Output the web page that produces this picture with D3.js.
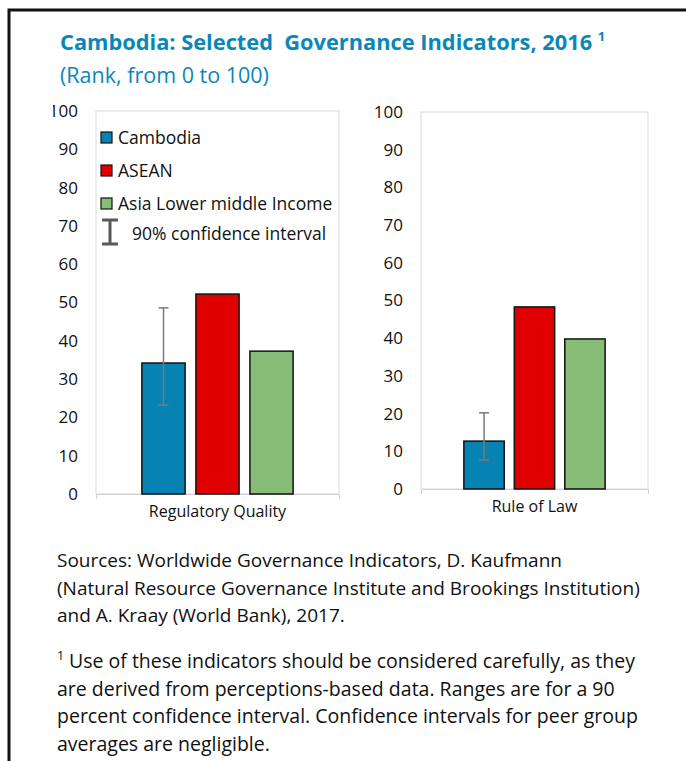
<!DOCTYPE html>
<html>
<head>
<meta charset="utf-8">
<script src="https://cdn.jsdelivr.net/npm/d3@7"></script>
<style>
  body { margin: 0; background: #fff; }
  svg { display: block; font-family: 'Open Sans', sans-serif; }
</style>
</head>
<body>
<script>
const width = 686
const height = 761

// data
const series = ['Cambodia', 'ASEAN', 'Asia Lower middle Income']
const indicators = ['Regulatory Quality', 'Rule of Law']
const regulatoryQuality = [34.2, 52.2, 37.3]
const ruleOfLaw = [12.7, 48.3, 39.8]
const cambodiaLow = [23.2, 7.7]
const cambodiaHigh = [48.6, 20.2]
const yTicks = [0, 10, 20, 30, 40, 50, 60, 70, 80, 90, 100]

const colors = ['#0683b3', '#e00000', '#88bd78']
const blue = '#0a87b8'
const font = "'Open Sans', sans-serif"

const sourceLines = [
  'Sources: Worldwide Governance Indicators, D. Kaufmann',
  '(Natural Resource Governance Institute and Brookings Institution)',
  'and A. Kraay (World Bank), 2017.'
]
const noteLines = [
  'Use of these indicators should be considered carefully, as they',
  'are derived from perceptions-based data. Ranges are for a 90',
  'percent confidence interval. Confidence intervals for peer group',
  'averages are negligible.'
]

const panels = [
  { name: indicators[0], values: regulatoryQuality, lo: cambodiaLow[0], hi: cambodiaHigh[0],
    x0: 96, x1: 339, y0: 494, y1: 111 },
  { name: indicators[1], values: ruleOfLaw, lo: cambodiaLow[1], hi: cambodiaHigh[1],
    x0: 421, x1: 648, y0: 489, y1: 112 }
]

const svg = d3.select('body').append('svg')
  .attr('width', width)
  .attr('height', height)

// frame (top + left only)
svg.append('path')
  .attr('d', `M9,${height} V10 H${width}`)
  .attr('fill', 'none')
  .attr('stroke', '#111')
  .attr('stroke-width', 3)

// title
const title = svg.append('text')
  .attr('x', 60).attr('y', 50)
  .attr('fill', blue)
  .attr('font-size', 21.8)
  .attr('font-weight', 'bold')
  .attr('xml:space', 'preserve')
title.append('tspan').text('Cambodia: Selected  Governance Indicators, 2016 ')
title.append('tspan').attr('font-size', 13).attr('dy', -9).text('1')

svg.append('text')
  .attr('x', 60).attr('y', 83)
  .attr('fill', blue)
  .attr('font-size', 21.5)
  .text('(Rank, from 0 to 100)')

// the source image crops the left edge of the first axis
svg.append('clipPath').attr('id', 'leftclip')
  .append('rect').attr('x', 53).attr('y', 0).attr('width', width).attr('height', height)

const color = d3.scaleOrdinal().domain(series).range(colors)

panels.forEach((p, i) => {
  const g = svg.append('g')
  if (i === 0) g.attr('clip-path', 'url(#leftclip)')

  const y = d3.scaleLinear().domain([0, 100]).range([p.y0, p.y1])
  const x = d3.scaleBand().domain([p.name]).range([p.x0, p.x1])
    .paddingInner(0).paddingOuter(0.25)
  const xs = d3.scaleBand().domain(series).range([0, x.bandwidth()])
    .paddingInner(0.2).paddingOuter(0.1)

  // plot area border
  g.append('rect')
    .attr('x', p.x0).attr('y', p.y1)
    .attr('width', p.x1 - p.x0).attr('height', p.y0 - p.y1)
    .attr('fill', 'none')
    .attr('stroke', '#d9d9d9')

  // y axis labels
  const yAxis = g.append('g')
    .attr('transform', `translate(${p.x0},0)`)
    .call(d3.axisLeft(y).tickValues(yTicks).tickSize(0).tickPadding(18))
  yAxis.select('.domain').remove()
  yAxis.selectAll('text')
    .attr('font-family', font)
    .attr('font-size', 17)
    .attr('fill', '#111')

  // x axis
  const xAxis = g.append('g')
    .attr('transform', `translate(0,${p.y0})`)
    .call(d3.axisBottom(x).tickSizeInner(0).tickSizeOuter(5).tickPadding(12))
  xAxis.select('.domain').attr('stroke', '#d0d0d0')
  xAxis.selectAll('text')
    .attr('font-family', font)
    .attr('font-size', 16)
    .attr('fill', '#111')

  // bars
  g.selectAll('rect.bar')
    .data(series.map((s, k) => ({ s, v: p.values[k] })))
    .join('rect')
    .attr('class', 'bar')
    .attr('x', d => x(p.name) + xs(d.s))
    .attr('y', d => y(d.v))
    .attr('width', xs.bandwidth())
    .attr('height', d => y(0) - y(d.v))
    .attr('fill', d => color(d.s))
    .attr('stroke', '#111')
    .attr('stroke-width', 1.5)

  // confidence interval on Cambodia
  const cx = x(p.name) + xs(series[0]) + xs.bandwidth() / 2
  const err = g.append('g').attr('stroke', '#7a7a7a').attr('stroke-width', 1.5)
  err.append('line').attr('x1', cx).attr('x2', cx).attr('y1', y(p.lo)).attr('y2', y(p.hi))
  ;[p.lo, p.hi].forEach(v => {
    err.append('line').attr('x1', cx - 5).attr('x2', cx + 5).attr('y1', y(v)).attr('y2', y(v))
  })
})

// legend inside the left panel
const legend = svg.append('g').attr('transform', 'translate(101,132)')
series.forEach((s, k) => {
  const row = legend.append('g').attr('transform', `translate(0,${k * 33})`)
  row.append('rect')
    .attr('width', 11).attr('height', 11)
    .attr('fill', color(s))
    .attr('stroke', '#111')
    .attr('stroke-width', 1.2)
  row.append('text')
    .attr('x', 17).attr('y', 5.5).attr('dy', '0.35em')
    .attr('font-size', 17.5)
    .attr('fill', '#111')
    .text(s)
})
const ci = legend.append('g').attr('transform', `translate(0,${3 * 33})`)
ci.append('path')
  .attr('d', 'M1,-11 H17 M9,-11 V13 M1,13 H17')
  .attr('fill', 'none')
  .attr('stroke', '#595959')
  .attr('stroke-width', 3)
ci.append('text')
  .attr('x', 31).attr('y', 3).attr('dy', '0.35em')
  .attr('font-size', 17.5)
  .attr('fill', '#111')
  .text('90% confidence interval')

// sources and footnote
svg.append('g').selectAll('text')
  .data(sourceLines)
  .join('text')
  .attr('x', 57)
  .attr('y', (d, k) => 567 + k * 27.5)
  .attr('font-size', 19)
  .attr('fill', '#111')
  .text(d => d)

svg.append('text')
  .attr('x', 57).attr('y', 660)
  .attr('font-size', 12.5)
  .attr('fill', '#111')
  .text('1')

svg.append('g').selectAll('text')
  .data(noteLines)
  .join('text')
  .attr('x', (d, k) => k === 0 ? 69 : 57)
  .attr('y', (d, k) => 668 + k * 27.7)
  .attr('font-size', 19.5)
  .attr('fill', '#111')
  .text(d => d)
</script>
</body>
</html>
